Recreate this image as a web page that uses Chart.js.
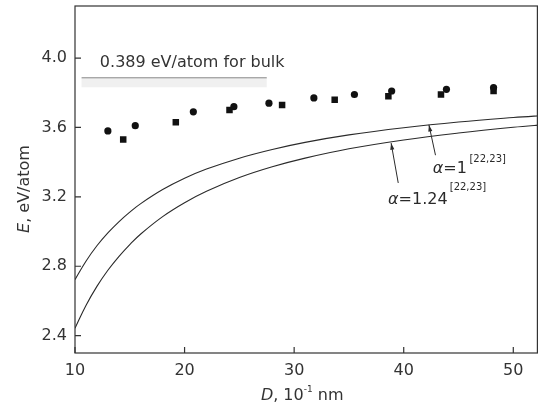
<!DOCTYPE html>
<html>
<head>
<meta charset="utf-8">
<script src="https://cdn.jsdelivr.net/npm/chart.js@4.4.0/dist/chart.umd.min.js"></script>
<style>
    html, body { margin: 0; padding: 0; background: #fff; }
    #chart { display: block; }
</style>
</head>
<body>
<canvas id="chart" width="542" height="409"></canvas>
<script>
const circleD = [13.0, 15.5, 20.8, 24.5, 27.7, 31.8, 35.5, 38.9, 43.9, 48.2];
const circleE = [3.58, 3.61, 3.69, 3.72, 3.74, 3.77, 3.79, 3.81, 3.82, 3.83];
const squareD = [14.4, 19.2, 24.1, 28.9, 33.7, 38.6, 43.4, 48.2];
const squareE = [3.53, 3.63, 3.70, 3.73, 3.76, 3.78, 3.79, 3.81];

// Model curves (alpha = 1 and alpha = 1.24)
const curveD = [10, 11, 12, 13, 14, 15, 16, 18, 20, 22, 25, 28, 31, 35, 40, 45, 50, 53];
const alpha1E = [2.723, 2.829, 2.918, 2.992, 3.056, 3.112, 3.161, 3.242, 3.307, 3.360, 3.423, 3.473, 3.514, 3.557, 3.598, 3.631, 3.657, 3.670];
const alpha124E = [2.443, 2.574, 2.684, 2.777, 2.856, 2.925, 2.986, 3.086, 3.166, 3.232, 3.311, 3.373, 3.423, 3.477, 3.528, 3.568, 3.601, 3.617];

// Bulk reference line
const bulkD = [10.6, 27.5];
const bulkE = [3.886, 3.886];
const bulkBandE = [3.857, 3.857];

// Arrows: tail -> tip
const arrowTailD = [42.9, 39.5];
const arrowTailE = [3.44, 3.28];
const arrowTipD = [42.3, 38.85];
const arrowTipE = [3.615, 3.51];

const xTicks = [10, 20, 30, 40, 50];
const yTicks = [2.4, 2.8, 3.2, 3.6, 4.0];

const FONT = '"DejaVu Sans", "Liberation Sans", Arial, sans-serif';
const INK = '#2a2a2a';

const toPoints = (xs, ys) => xs.map((v, i) => ({ x: v, y: ys[i] }));

// Draw a sequence of text runs with different fonts / baselines
function drawRuns(ctx, runs, x, y, align) {
    let total = 0;
    runs.forEach(r => { ctx.font = r.font; total += ctx.measureText(r.text).width; });
    let cx = align === 'center' ? x - total / 2 : x;
    runs.forEach(r => {
        ctx.font = r.font;
        ctx.fillText(r.text, cx, y + (r.dy || 0));
        cx += ctx.measureText(r.text).width;
    });
}

const decorations = {
    id: 'decorations',
    afterDraw(chart) {
        const { ctx, chartArea: a, scales: { x, y } } = chart;
        ctx.save();

        // frame
        ctx.strokeStyle = '#333';
        ctx.lineWidth = 1.2;
        ctx.strokeRect(a.left, a.top, a.right - a.left, a.bottom - a.top);

        // inward ticks
        ctx.beginPath();
        xTicks.forEach(v => {
            const px = x.getPixelForValue(v);
            ctx.moveTo(px, a.bottom);
            ctx.lineTo(px, a.bottom - 6);
        });
        yTicks.forEach(v => {
            const py = y.getPixelForValue(v);
            ctx.moveTo(a.left, py);
            ctx.lineTo(a.left + 6, py);
        });
        ctx.stroke();

        // arrows
        ctx.strokeStyle = INK;
        ctx.fillStyle = INK;
        ctx.lineWidth = 1;
        arrowTailD.forEach((d, i) => {
            const x0 = x.getPixelForValue(d), y0 = y.getPixelForValue(arrowTailE[i]);
            const x1 = x.getPixelForValue(arrowTipD[i]), y1 = y.getPixelForValue(arrowTipE[i]);
            const ang = Math.atan2(y1 - y0, x1 - x0);
            ctx.beginPath();
            ctx.moveTo(x0, y0);
            ctx.lineTo(x1, y1);
            ctx.stroke();
            ctx.beginPath();
            ctx.moveTo(x1, y1);
            ctx.lineTo(x1 - 7 * Math.cos(ang - 0.3), y1 - 7 * Math.sin(ang - 0.3));
            ctx.lineTo(x1 - 7 * Math.cos(ang + 0.3), y1 - 7 * Math.sin(ang + 0.3));
            ctx.closePath();
            ctx.fill();
        });

        // annotation text
        ctx.fillStyle = '#333';
        ctx.textBaseline = 'alphabetic';
        ctx.textAlign = 'left';
        ctx.font = '16px ' + FONT;
        ctx.fillText('0.389 eV/atom for bulk', x.getPixelForValue(12.27), y.getPixelForValue(3.948));

        ctx.fillStyle = INK;
        drawRuns(ctx, [
            { text: '\u03B1', font: 'italic 16px ' + FONT },
            { text: '=1', font: '16px ' + FONT }
        ], x.getPixelForValue(42.65), y.getPixelForValue(3.337), 'left');
        ctx.font = '10px ' + FONT;
        ctx.fillText('[22,23]', x.getPixelForValue(46.0), y.getPixelForValue(3.402));

        drawRuns(ctx, [
            { text: '\u03B1', font: 'italic 16px ' + FONT },
            { text: '=1.24', font: '16px ' + FONT }
        ], x.getPixelForValue(38.57), y.getPixelForValue(3.161), 'left');
        ctx.font = '10px ' + FONT;
        ctx.fillText('[22,23]', x.getPixelForValue(44.2), y.getPixelForValue(3.238));

        // axis titles
        ctx.fillStyle = '#333';
        ctx.textBaseline = 'middle';
        drawRuns(ctx, [
            { text: 'D', font: 'italic 16px ' + FONT },
            { text: ', 10', font: '16px ' + FONT },
            { text: '-1', font: '9px ' + FONT, dy: -6 },
            { text: ' nm', font: '16px ' + FONT }
        ], (a.left + a.right) / 2 - 4, 396, 'center');

        ctx.translate(25, 189);
        ctx.rotate(-Math.PI / 2);
        drawRuns(ctx, [
            { text: 'E', font: 'italic 16px ' + FONT },
            { text: ', eV/atom', font: '16px ' + FONT }
        ], 0, 0, 'center');

        ctx.restore();
    }
};

new Chart(document.getElementById('chart').getContext('2d'), {
    type: 'line',
    data: {
        datasets: [
            {
                label: 'bulk band',
                data: toPoints(bulkD, bulkBandE),
                borderColor: 'rgba(205, 205, 205, 0.3)',
                borderWidth: 9,
                pointRadius: 0
            },
            {
                label: 'bulk',
                data: toPoints(bulkD, bulkE),
                borderColor: '#a8a8a8',
                borderWidth: 1.5,
                pointRadius: 0
            },
            {
                label: 'alpha = 1',
                data: toPoints(curveD, alpha1E),
                borderColor: INK,
                borderWidth: 1.1,
                pointRadius: 0,
                tension: 0.4
            },
            {
                label: 'alpha = 1.24',
                data: toPoints(curveD, alpha124E),
                borderColor: INK,
                borderWidth: 1.1,
                pointRadius: 0,
                tension: 0.4
            },
            {
                label: 'circles',
                data: toPoints(circleD, circleE),
                showLine: false,
                pointStyle: 'circle',
                pointRadius: 3.6,
                pointBorderWidth: 0,
                pointBackgroundColor: '#111'
            },
            {
                label: 'squares',
                data: toPoints(squareD, squareE),
                showLine: false,
                pointStyle: 'rect',
                pointRadius: 4.6,
                pointBorderWidth: 0,
                pointBackgroundColor: '#111'
            }
        ]
    },
    options: {
        responsive: false,
        animation: false,
        devicePixelRatio: 1,
        layout: { padding: { top: 6, right: 2, left: 0, bottom: 0 } },
        plugins: {
            legend: { display: false },
            tooltip: { enabled: false }
        },
        scales: {
            x: {
                type: 'linear',
                min: 10,
                max: 52.2,
                afterBuildTicks: scale => { scale.ticks = xTicks.map(v => ({ value: v })); },
                afterFit: scale => {
                    scale.height = 56;
                    scale.paddingLeft = 0;
                    scale.paddingRight = 0;
                },
                grid: { display: false, drawTicks: false },
                border: { display: false },
                ticks: {
                    color: '#333',
                    padding: 8,
                    maxRotation: 0,
                    font: { size: 16, family: FONT },
                    callback: v => String(v)
                }
            },
            y: {
                type: 'linear',
                min: 2.3,
                max: 4.3,
                afterBuildTicks: scale => { scale.ticks = yTicks.map(v => ({ value: v })); },
                afterFit: scale => {
                    scale.width = 75;
                    scale.paddingTop = 0;
                    scale.paddingBottom = 0;
                },
                grid: { display: false, drawTicks: false },
                border: { display: false },
                ticks: {
                    color: '#333',
                    padding: 8,
                    font: { size: 16, family: FONT },
                    callback: v => Number(v).toFixed(1)
                }
            }
        }
    },
    plugins: [decorations]
});
</script>
</body>
</html>
